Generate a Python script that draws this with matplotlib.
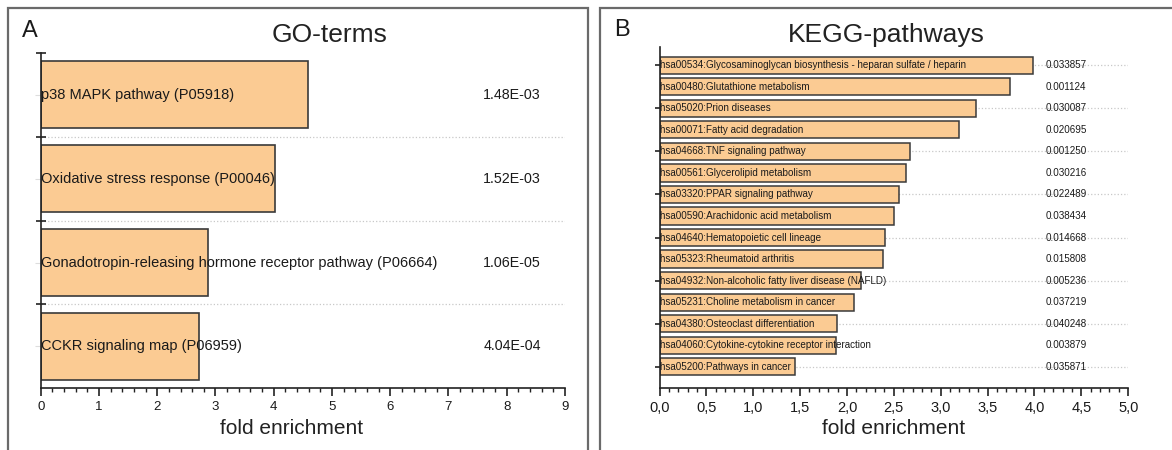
import numpy as np
import matplotlib
matplotlib.use("Agg")
import matplotlib.pyplot as plt
from matplotlib.patches import Rectangle
from matplotlib.ticker import MultipleLocator, FixedLocator, FuncFormatter

plt.rcParams['font.family'] = ['Liberation Sans', 'DejaVu Sans']

# ---------------- data ----------------
go_terms = ["p38 MAPK pathway (P05918)",
            "Oxidative stress response (P00046)",
            "Gonadotropin-releasing hormone receptor pathway (P06664)",
            "CCKR signaling map (P06959)"]
go_fold = [4.59, 4.02, 2.88, 2.71]
go_pval = ["1.48E-03", "1.52E-03", "1.06E-05", "4.04E-04"]

kegg_terms = ["hsa00534:Glycosaminoglycan biosynthesis - heparan sulfate / heparin",
              "hsa00480:Glutathione metabolism",
              "hsa05020:Prion diseases",
              "hsa00071:Fatty acid degradation",
              "hsa04668:TNF signaling pathway",
              "hsa00561:Glycerolipid metabolism",
              "hsa03320:PPAR signaling pathway",
              "hsa00590:Arachidonic acid metabolism",
              "hsa04640:Hematopoietic cell lineage",
              "hsa05323:Rheumatoid arthritis",
              "hsa04932:Non-alcoholic fatty liver disease (NAFLD)",
              "hsa05231:Choline metabolism in cancer",
              "hsa04380:Osteoclast differentiation",
              "hsa04060:Cytokine-cytokine receptor interaction",
              "hsa05200:Pathways in cancer"]
kegg_fold = [3.98, 3.74, 3.38, 3.19, 2.67, 2.63, 2.56, 2.50, 2.41, 2.38,
             2.15, 2.08, 1.89, 1.88, 1.45]
kegg_pval = ["0.033857", "0.001124", "0.030087", "0.020695", "0.001250",
             "0.030216", "0.022489", "0.038434", "0.014668", "0.015808",
             "0.005236", "0.037219", "0.040248", "0.003879", "0.035871"]

# ---------------- layout helpers ----------------
W, H = 1172, 450
fig = plt.figure(figsize=(W / 100, H / 100), dpi=100)

def ax_rect(x0, y0, x1, y1):
    return [x0 / W, (H - y1) / H, (x1 - x0) / W, (y1 - y0) / H]

BAR = '#FBCB93'
EDGE = '#3a3a3a'
TXT = '#1a1a1a'
FRAME = '#6a6a6a'
GRID = '#c8c8c8'

# panel frames
fig.add_artist(Rectangle((8.3 / W, (H - 470) / H), (588 - 8.3) / W, (470 - 8.3) / H,
                         transform=fig.transFigure, fill=False, ec=FRAME, lw=1.6))
fig.add_artist(Rectangle((600 / W, (H - 470) / H), (1190 - 600) / W, (470 - 8.3) / H,
                         transform=fig.transFigure, fill=False, ec=FRAME, lw=1.6))

fig.text(30 / W, 1 - 31 / H, "A", fontsize=17, ha='center', va='center', color=TXT)
fig.text(621.5 / W, 1 - 30.5 / H, "B", fontsize=17, ha='center', va='center', color=TXT)
fig.text(329.3 / W, 1 - 35 / H, "GO-terms", fontsize=19, ha='center', va='center', color='#222')
fig.text(886 / W, 1 - 35 / H, "KEGG-pathways", fontsize=19, ha='center', va='center', color='#222')

def style_axis(ax):
    for s in ('top', 'right'):
        ax.spines[s].set_visible(False)
    for s in ('left', 'bottom'):
        ax.spines[s].set_color('#222')
        ax.spines[s].set_linewidth(1.2)
    ax.set_facecolor('none')

# ---------------- panel A ----------------
axA = fig.add_axes(ax_rect(40.7, 53, 565, 388.3))
style_axis(axA)
yA = np.arange(len(go_terms))
axA.barh(yA, go_fold, height=0.8, color=BAR, edgecolor=EDGE, linewidth=1.2, zorder=2)
axA.set_xlim(0, 9)
axA.set_ylim(3.5, -0.5)
axA.xaxis.set_major_locator(MultipleLocator(1))
axA.xaxis.set_minor_locator(MultipleLocator(0.2))
axA.yaxis.set_major_locator(FixedLocator([-0.5, 0.5, 1.5, 2.5]))
axA.yaxis.set_minor_locator(FixedLocator(list(yA)))
axA.set_yticklabels([])
axA.tick_params(axis='y', which='major', direction='inout', length=7, width=1.2, color='#222')
axA.tick_params(axis='y', which='minor', direction='out', length=4, width=0.8, color='#dddddd')
axA.tick_params(axis='x', which='major', direction='out', length=6, width=1.2,
                labelsize=9.5, pad=3.5, colors='#222', labelcolor=TXT)
axA.tick_params(axis='x', which='minor', direction='out', length=3, width=1.0, color='#222')
for yv in [0.5, 1.5, 2.5]:
    axA.axhline(yv, color=GRID, ls=':', lw=0.9, zorder=1)
for i, (t, p) in enumerate(zip(go_terms, go_pval)):
    axA.text(0.0, i, t, ha='left', va='center', fontsize=10.5, color=TXT, zorder=3)
    axA.text(8.09, i, p, ha='center', va='center', fontsize=10.3, color=TXT, zorder=3)
axA.set_xlabel("fold enrichment", fontsize=15, color='#222')
axA.xaxis.label.set_va('center')
axA.xaxis.set_label_coords((291.7 - 40.7) / (565 - 40.7), (388.3 - 428) / (388.3 - 53))

# ---------------- panel B ----------------
axB = fig.add_axes(ax_rect(659.5, 46.7, 1128.2, 388.3))
style_axis(axB)
yB = np.arange(len(kegg_terms))
axB.barh(yB, kegg_fold, height=0.8, color=BAR, edgecolor=EDGE, linewidth=1.1, zorder=2)
axB.set_xlim(0, 5)
axB.set_ylim(15.0, -0.86)
axB.xaxis.set_major_locator(MultipleLocator(0.5))
axB.xaxis.set_minor_locator(MultipleLocator(0.1))
axB.xaxis.set_major_formatter(FuncFormatter(lambda v, pos: f"{v:.1f}".replace('.', ',')))
axB.yaxis.set_major_locator(FixedLocator(list(yB[::2])))
axB.set_yticklabels([])
axB.tick_params(axis='y', which='major', direction='inout', length=7, width=1.2, color='#222')
axB.tick_params(axis='x', which='major', direction='out', length=6, width=1.2,
                labelsize=10.5, pad=3.5, colors='#222', labelcolor=TXT)
axB.tick_params(axis='x', which='minor', direction='out', length=3, width=1.0, color='#222')
for yv in yB[::2]:
    axB.axhline(yv, color=GRID, ls=':', lw=0.9, zorder=1)
for i, (t, p) in enumerate(zip(kegg_terms, kegg_pval)):
    axB.text(0.0, i, t, ha='left', va='center', fontsize=7.1, color=TXT, zorder=3)
    axB.text(4.34, i, p, ha='center', va='center', fontsize=7.1, color=TXT, zorder=3)
axB.set_xlabel("fold enrichment", fontsize=15, color='#222')
axB.xaxis.label.set_va('center')
axB.xaxis.set_label_coords(0.5, (388.3 - 428) / (388.3 - 46.7))

fig.savefig("out.png", dpi=100)
